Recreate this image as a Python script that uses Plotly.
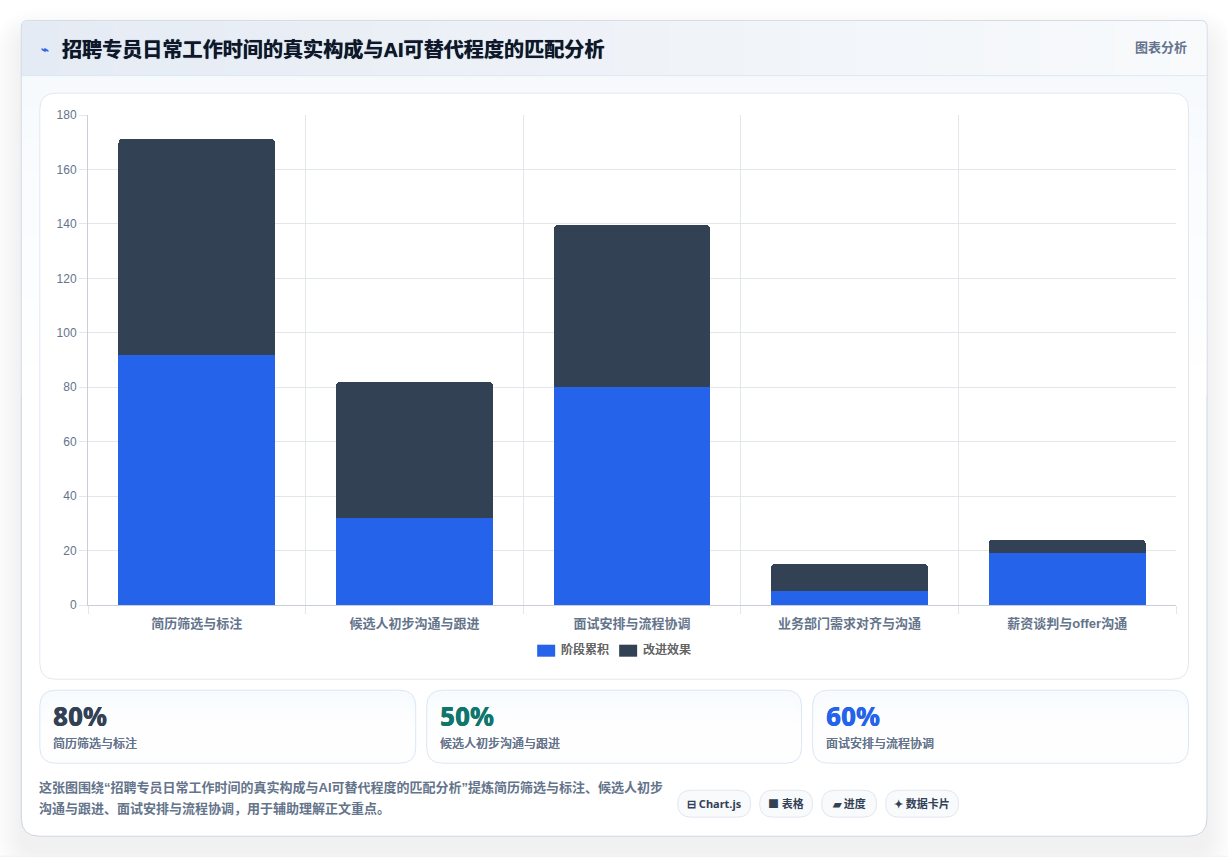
import plotly.graph_objects as go

W, H = 1228, 858

# Chart data
categories = ["简历筛选与标注", "候选人初步沟通与跟进", "面试安排与流程协调", "业务部门需求对齐与沟通", "薪资谈判与offer沟通"]
stage_values = [92, 32, 80, 5, 19]
effect_values = [79.2, 50, 59.5, 10, 5]
series_names = ["阶段累积", "改进效果"]
series_colors = ["#2563eb", "#334155"]
y_ticks = [0, 20, 40, 60, 80, 100, 120, 140, 160, 180]

# Text content
title_text = "招聘专员日常工作时间的真实构成与AI可替代程度的匹配分析"
badge_text = "图表分析"
kpi_values = ["80%", "50%", "60%"]
kpi_labels = ["简历筛选与标注", "候选人初步沟通与跟进", "面试安排与流程协调"]
kpi_colors = ["#334155", "#0f766e", "#2563eb"]
note_lines = ["这张图围绕“招聘专员日常工作时间的真实构成与AI可替代程度的匹配分析”提炼简历筛选与标注、候选人初步",
              "沟通与跟进、面试安排与流程协调，用于辅助理解正文重点。"]
chip_texts = ["⊟ Chart.js", "■ 表格", "▰ 进度", "✦ 数据卡片"]

CJK = "'Liberation Sans','Noto Sans CJK SC',sans-serif"
HEAVY = "'Noto Sans','Noto Sans CJK SC',sans-serif"
GRID = "#e2e7ec"
AXIS = "#c9ced8"

# Plot area bounds in page pixels; margins keep them fixed
PL, PR, PT, PB = 87.7, 1176.0, 115.3, 605.3


def px(x):
    return (x - PL) / (PR - PL)


def py(y):
    return (PB - y) / (PB - PT)


def round_path(x0, y0, x1, y1, r=None, rt=None, rb=None):
    """Rounded rectangle in paper coordinates, given in pixel units."""
    rt = r if rt is None else rt
    rb = r if rb is None else rb
    P = lambda x, y: f"{px(x):.5f},{py(y):.5f}"
    return (f"M{P(x0 + rt, y0)} L{P(x1 - rt, y0)} Q{P(x1, y0)} {P(x1, y0 + rt)} "
            f"L{P(x1, y1 - rb)} Q{P(x1, y1)} {P(x1 - rb, y1)} L{P(x0 + rb, y1)} "
            f"Q{P(x0, y1)} {P(x0, y1 - rb)} L{P(x0, y0 + rt)} Q{P(x0, y0)} {P(x0 + rt, y0)} Z")


def lerp(c0, c1, t):
    return "rgb(" + ",".join(str(round(a + (b - a) * t)) for a, b in zip(c0, c1)) + ")"


shapes = []


def panel(x0, y0, x1, y1, r=None, fill="rgba(0,0,0,0)", line=None, width=1, rt=None, rb=None):
    shapes.append(dict(type="path", xref="paper", yref="paper", layer="below",
                       path=round_path(x0, y0, x1, y1, r, rt, rb), fillcolor=fill,
                       line=dict(color=line or "rgba(0,0,0,0)", width=width if line else 0)))


def rect(x0, y0, x1, y1, fill, layer="below"):
    shapes.append(dict(type="rect", xref="paper", yref="paper", layer=layer,
                       x0=px(x0), x1=px(x1), y0=py(y0), y1=py(y1), fillcolor=fill, line_width=0))


# Soft shadow under the outer card, cut off at the page foot
for i in range(14, 0, -1):
    spread = i * 2.0
    panel(21 - spread, 21 + 16 - spread, 1207 + spread, 836 + 16 + spread, 18 + spread,
          "rgba(30,41,59,0.0055)")
rect(-10, 857, W + 10, H + 40, "#ffffff")
shapes.append(dict(type="line", xref="paper", yref="paper", layer="below",
                   x0=px(0), x1=px(W), y0=py(856.5), y1=py(856.5),
                   line=dict(color="#edf0f4", width=1)))

# Outer card with a vertical fade from pale blue-grey to white
panel(21, 21, 1207, 836.5, fill="#ffffff", line="#ccd5e3", rt=6, rb=18)
for i in range(20):
    rect(21.5, 76 + i * 16, 1206.5, 76 + (i + 1) * 16, lerp((247, 250, 253), (255, 255, 255), i / 19))

# Header band, horizontal gradient with slightly rounded upper corners
segments = 64
start, end = (229, 235, 244), (248, 250, 252)
seg_w = (1206.5 - 21.5) / segments
panel(21.5, 21.5, 21.5 + 4 * seg_w, 76, fill=lerp(start, end, 0), rt=5.5, rb=0)
panel(1206.5 - 4 * seg_w, 21.5, 1206.5, 76, fill=lerp(start, end, 1), rt=5.5, rb=0)
for i in range(1, segments - 1):
    xa = 21.5 + seg_w * i
    rect(xa, 21.5, xa + seg_w + 0.5, 76, lerp(start, end, i / (segments - 1)))
shapes.append(dict(type="line", xref="paper", yref="paper", layer="below",
                   x0=px(21.5), x1=px(1206.5), y0=py(76), y1=py(76),
                   line=dict(color="#dbe7f5", width=1)))

# Chart panel
panel(39.5, 93.5, 1188.5, 679.5, 16, "#ffffff", "#e2e8f0")

# KPI cards: stacked fills fade downward, the border goes on last
kpi_spans = [(39.5, 415.5), (426.5, 801.5), (812.5, 1188.5)]
for x0, x1 in kpi_spans:
    for i in range(6):
        panel(x0, 690.5 + i * 6, x1, 763.5, 16, lerp((248, 251, 254), (254, 254, 255), i / 5))
    panel(x0, 690.5, x1, 763.5, 16, line="#dbe7f5")

# Chips beneath the note
chip_spans = [(677.5, 750.5), (759.5, 812.5), (821.5, 876.5), (885.5, 958.5)]
for x0, x1 in chip_spans:
    panel(x0, 790.5, x1, 817.5, 13.5, "#f8fafc", "#e2e8f0")

# Legend swatches
legend_x = [537, 619]
for x0, c in zip(legend_x, series_colors):
    rect(x0, 645, x0 + 18, 657, c, layer="above")

# Text placed in page pixel units
annotations = []


def label(x, y, text, size, color, family=CJK, anchor="left", weight=400, shadow=None):
    annotations.append(dict(xref="paper", yref="paper", x=px(x), y=py(y), text=text,
                            showarrow=False, xanchor=anchor, yanchor="middle",
                            font=dict(size=size, color=color, family=family, weight=weight,
                                      shadow=shadow or "none"),
                            borderpad=0, borderwidth=0))


label(41, 50, "⌁", 13, "#2563eb", weight=700)
label(62, 50, title_text, 20.1, "#0f172a", weight=700, shadow="0 0 0.7px #0f172a")
label(1187, 48, badge_text, 13, "#64748b", anchor="right", weight=600)
for x, name in zip([561, 643], series_names):
    label(x, 650, name, 12, "#666666", weight=500, shadow="0 0 0.5px #666666")
for (x0, _), v, t, c in zip(kpi_spans, kpi_values, kpi_labels, kpi_colors):
    label(x0 + 13.5, 716.5, v, 26, c, family=HEAVY, weight=800, shadow=f"0 0 0.6px {c}")
    label(x0 + 13.5, 744, t, 12, "#64748b", weight=500, shadow="0 0 0.5px #64748b")
label(39, 788, note_lines[0], 13, "#64748b", weight=600)
label(39, 809, note_lines[1], 13, "#64748b", weight=600)
for (x0, x1), t in zip(chip_spans, chip_texts):
    label((x0 + x1) / 2, 804, t, 11, "#334155", family=HEAVY, anchor="center", weight=700)

fig = go.Figure()
for name, vals, color in zip(series_names, [stage_values, effect_values], series_colors):
    fig.add_trace(go.Bar(name=name, x=categories, y=vals, marker=dict(color=color, line_width=0),
                         width=0.72, showlegend=False))

fig.update_layout(
    width=W, height=H, autosize=False,
    margin=dict(l=PL, r=W - PR, t=PT, b=H - PB, pad=0),
    paper_bgcolor="#ffffff", plot_bgcolor="rgba(0,0,0,0)",
    barmode="stack", barcornerradius=4,
    shapes=shapes, annotations=annotations,
    xaxis=dict(type="category", tickson="boundaries",
               showgrid=True, gridcolor=GRID, gridwidth=1,
               showline=True, linecolor=AXIS, linewidth=1,
               ticks="outside", ticklen=8, tickcolor=GRID, ticklabelstandoff=6,
               tickfont=dict(size=13, color="#64748b", family=CJK, weight=600), zeroline=False),
    yaxis=dict(range=[0, 180.01], tickvals=y_ticks,
               showgrid=True, gridcolor=GRID, gridwidth=1,
               showline=True, linecolor=AXIS, linewidth=1,
               ticks="outside", ticklen=8, tickcolor=GRID,
               tickfont=dict(size=12, color="#64748b", family=CJK), zeroline=False),
)

fig.write_html("out.html", config=dict(displayModeBar=False))
